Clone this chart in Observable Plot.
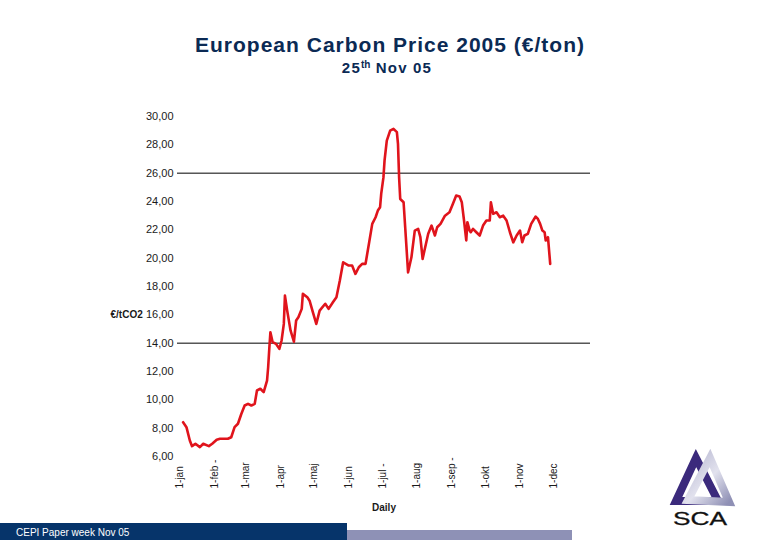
<!DOCTYPE html>
<html><head><meta charset="utf-8">
<script src="https://cdn.jsdelivr.net/npm/d3@7"></script>
<script src="https://cdn.jsdelivr.net/npm/@observablehq/plot@0.6"></script>
<style>
body{margin:0;width:780px;height:540px;position:relative;background:#fff;font-family:"Liberation Sans",Arial,sans-serif;overflow:hidden}
#title{position:absolute;left:0;width:780px;top:33px;text-align:center;font-weight:bold;font-size:21px;color:#0b2a54;letter-spacing:1px}
#sub{position:absolute;left:0;width:774px;top:59px;text-align:center;font-weight:bold;font-size:15px;color:#0b2a54;letter-spacing:1.2px}
#sub sup{font-size:10px;vertical-align:5px;letter-spacing:0}
#chart{position:absolute;left:0;top:100px}
#barDark{position:absolute;left:0;top:523px;width:347px;height:17px;background:#06346a;color:#fff;font-size:10px;line-height:19px;padding-left:16px;box-sizing:border-box}
#barLight{position:absolute;left:347px;top:530px;width:225px;height:10px;background:#8e91b6}
#logo{position:absolute;left:640px;top:430px}
</style>
</head><body>
<div id="title">European Carbon Price 2005 (€/ton)</div>
<div id="sub">25<sup>th</sup> Nov 05</div>
<div id="chart"></div>
<div id="barDark">CEPI Paper week Nov 05</div>
<div id="barLight"></div>
<svg id="logo" width="130" height="110" viewBox="0 0 130 110">
  <defs>
    <linearGradient id="lg" x1="0" y1="0" x2="1" y2="1">
      <stop offset="0" stop-color="#b9b9d2"/>
      <stop offset="0.5" stop-color="#e2e2ee"/>
      <stop offset="1" stop-color="#8f90b5"/>
    </linearGradient>
  </defs>
  <polygon points="56,28 36,71 78,71" fill="none" stroke="#3b2a7c" stroke-width="8" stroke-linejoin="miter"/>
  <polygon points="70,28 48,70 89,72" fill="none" stroke="url(#lg)" stroke-width="8" stroke-linejoin="miter"/>
  <text x="33" y="95" textLength="54" lengthAdjust="spacingAndGlyphs" font-family="Liberation Sans, Arial, sans-serif" font-size="19" fill="#111" stroke="#111" stroke-width="0.3">SCA</text>
</svg>
<script>
// Tick values and labels
const yTicks = [6, 8, 10, 12, 14, 16, 18, 20, 22, 24, 26, 28, 30];
const yTickLabels = ["6,00", "8,00", "10,00", "12,00", "14,00", "16,00", "18,00", "20,00", "22,00", "24,00", "26,00", "28,00", "30,00"];
const gridLines = [14, 26];
const xTickDates = ["2005-01-01", "2005-02-01", "2005-03-01", "2005-04-01", "2005-05-01", "2005-06-01", "2005-07-01", "2005-08-01", "2005-09-01", "2005-10-01", "2005-11-01", "2005-12-01"];
const xTickLabels = ["1-jan", "1-feb -", "1-mar", "1-apr", "1-maj", "1-jun", "1-jul -", "1-aug", "1-sep -", "1-okt", "1-nov", "1-dec"];
const yLabel = "€/tCO2";
const xLabel = "Daily";

// Series
const dates = [
  "2005-01-01","2005-01-04","2005-01-07","2005-01-09","2005-01-12","2005-01-16","2005-01-19","2005-01-24","2005-01-27","2005-01-31",
  "2005-02-03","2005-02-10","2005-02-13","2005-02-16","2005-02-19","2005-02-22","2005-02-25","2005-02-28",
  "2005-03-03","2005-03-06","2005-03-08","2005-03-11","2005-03-14","2005-03-17","2005-03-18","2005-03-19","2005-03-20","2005-03-22","2005-03-25","2005-03-28","2005-03-30",
  "2005-04-01","2005-04-02","2005-04-04","2005-04-07","2005-04-10","2005-04-12","2005-04-14","2005-04-17","2005-04-18","2005-04-22","2005-04-24","2005-04-27","2005-04-30",
  "2005-05-03","2005-05-08","2005-05-11","2005-05-15","2005-05-18","2005-05-21","2005-05-24","2005-05-29",
  "2005-06-01","2005-06-04","2005-06-07","2005-06-10","2005-06-13","2005-06-16","2005-06-19","2005-06-22","2005-06-24","2005-06-26","2005-06-27","2005-06-29","2005-06-30",
  "2005-07-02","2005-07-05","2005-07-08","2005-07-11","2005-07-12","2005-07-13","2005-07-14","2005-07-17","2005-07-19","2005-07-21","2005-07-24","2005-07-27","2005-07-30",
  "2005-08-01","2005-08-03","2005-08-05","2005-08-08","2005-08-11","2005-08-14","2005-08-16","2005-08-19","2005-08-23","2005-08-27","2005-08-30",
  "2005-09-02","2005-09-05","2005-09-07","2005-09-09","2005-09-11","2005-09-12","2005-09-14","2005-09-15","2005-09-17","2005-09-20","2005-09-23","2005-09-26","2005-09-29",
  "2005-10-02","2005-10-03","2005-10-05","2005-10-08","2005-10-11","2005-10-14","2005-10-17","2005-10-20","2005-10-23","2005-10-26","2005-10-29","2005-10-31",
  "2005-11-02","2005-11-05","2005-11-08","2005-11-12","2005-11-14","2005-11-16","2005-11-18","2005-11-20","2005-11-21","2005-11-23","2005-11-25"
];
const prices = [
  8.42, 8.07, 7.13, 6.73, 6.90, 6.66, 6.90, 6.73, 6.90, 7.18,
  7.25, 7.25, 7.36, 8.07, 8.31, 9.00, 9.60, 9.72,
  9.60, 9.72, 10.66, 10.78, 10.54, 11.36, 12.30, 13.60, 14.77, 14.07, 13.95, 13.60, 14.19,
  15.36, 17.36, 16.30, 14.90, 14.10, 15.60, 15.83, 16.42, 17.48, 17.24, 17.00, 16.18, 15.36,
  16.30, 16.78, 16.42, 16.90, 17.24, 18.40, 19.71, 19.48,
  19.48, 18.89, 19.36, 19.60, 19.60, 21.00, 22.42, 22.89, 23.36, 23.60, 24.54, 25.70, 26.90,
  28.30, 29.00, 29.13, 28.90, 28.06, 25.70, 24.18, 23.95, 21.48, 19.00, 20.06, 21.95, 22.07,
  21.48, 19.95, 20.66, 21.72, 22.30, 21.60, 22.18, 22.42, 23.00, 23.24, 23.83,
  24.42, 24.35, 23.95, 22.66, 21.25, 22.54, 21.95, 21.83, 22.07, 21.83, 21.60, 22.30, 22.66,
  22.66, 23.95, 23.13, 23.24, 22.89, 23.00, 22.66, 21.83, 21.12, 21.60, 21.95, 21.12,
  21.60, 21.72, 22.42, 22.94, 22.77, 22.42, 21.95, 21.83, 21.25, 21.48, 19.60
];

const data = dates.map((d, i) => ({date: new Date(d), price: prices[i]}));
const ticks = xTickDates.map((d, i) => ({date: new Date(d), label: xTickLabels[i]}));

const chart = Plot.plot({
  width: 780,
  height: 420,
  marginLeft: 177,
  marginRight: 190,
  marginTop: 16,
  marginBottom: 64,
  style: {fontFamily: "Liberation Sans, Arial, sans-serif", fontSize: "10px", color: "#1a1a1a", background: "transparent"},
  x: {type: "utc", domain: [new Date("2004-12-27"), new Date("2005-12-31")], axis: null},
  y: {domain: [6, 30]},
  marks: [
    Plot.ruleY(gridLines, {stroke: "#000", strokeWidth: 1}),
    Plot.axisY({ticks: yTicks, tickSize: 0, tickPadding: 4, label: null,
      tickFormat: d => yTickLabels[yTicks.indexOf(d)], fontSize: 11}),
    Plot.text(ticks, {x: "date", text: "label", frameAnchor: "bottom", rotate: -90,
      textAnchor: "start", dy: 32, fontSize: 10, fill: "#1a1a1a"}),
    Plot.text([yLabel], {frameAnchor: "left", y: () => 16, text: d => d, dx: -67,
      textAnchor: "start", fontWeight: "bold", fontSize: 10, fill: "#1a1a1a"}),
    Plot.text([xLabel], {frameAnchor: "bottom", text: d => d, dy: 54,
      fontWeight: "bold", fontSize: 10, fill: "#1a1a1a"}),
    Plot.line(data, {x: "date", y: "price", stroke: "#e0141c", strokeWidth: 2.6,
      strokeLinejoin: "round"})
  ]
});
document.getElementById("chart").appendChild(chart);
</script>
</body></html>
